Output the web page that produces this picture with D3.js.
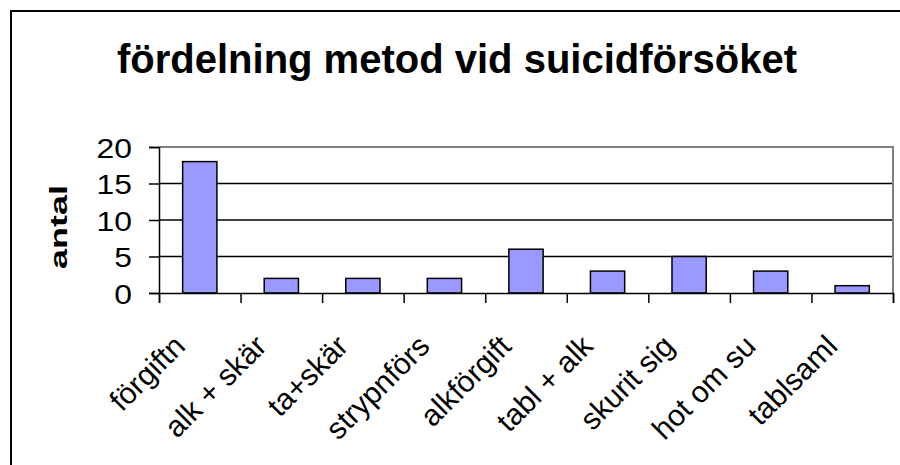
<!DOCTYPE html>
<html>
<head>
<meta charset="utf-8">
<script src="https://cdn.jsdelivr.net/npm/d3@7"></script>
<style>
  body { margin: 0; background: #fff; }
  text { font-family: Arial, "Liberation Sans", sans-serif; }
</style>
</head>
<body>
<svg width="900" height="465"></svg>
<script>
//chart data
var categories = ["förgiftn", "alk + skär", "ta+skär", "strypnförs", "alkförgift", "tabl + alk", "skurit sig", "hot om su", "tablsaml"];
var values = [18, 2, 2, 2, 6, 3, 5, 3, 1];
var yTicks = [0, 5, 10, 15, 20];
var title = "fördelning metod vid suicidförsöket";
var yTitle = "antal";

var svg = d3.select("svg");

//outer frame
svg.append("rect")
    .attr("x", 11).attr("y", 11)
    .attr("width", 950).attr("height", 500)
    .attr("fill", "#fff")
    .attr("stroke", "#000")
    .attr("stroke-width", 2);

//plot area
var plotLeft = 159, plotRight = 893, plotTop = 147, plotBottom = 293;

var x = d3.scaleBand()
    .domain(categories)
    .range([plotLeft, plotRight])
    .paddingInner(0.58)
    .paddingOuter(0.29);

var xTick = d3.scaleLinear()
    .domain([0, categories.length])
    .range([plotLeft, plotRight]);

var y = d3.scaleLinear()
    .domain([0, 20])
    .range([plotBottom, plotTop]);

//gridlines
svg.selectAll(".grid")
    .data(yTicks.filter(function (d) { return d > 0 && d < 20; }))
    .enter()
    .append("line")
    .attr("x1", plotLeft).attr("x2", plotRight)
    .attr("y1", function (d) { return y(d); })
    .attr("y2", function (d) { return y(d); })
    .attr("stroke", "#000")
    .attr("stroke-width", 1.5);

//grey plot border top + right
svg.append("path")
    .attr("d", "M" + plotLeft + "," + y(20) + "H" + plotRight + "V" + plotBottom)
    .attr("fill", "none")
    .attr("stroke", "#808080")
    .attr("stroke-width", 2);

//bars
svg.selectAll(".bar")
    .data(values)
    .enter()
    .append("rect")
    .attr("class", "bar")
    .attr("x", function (d, i) { return x(categories[i]); })
    .attr("width", x.bandwidth())
    .attr("y", function (d) { return y(d); })
    .attr("height", function (d) { return y(0) - y(d); })
    .attr("fill", "#9999ff")
    .attr("stroke", "#000")
    .attr("stroke-width", 1.5);

//y axis
var yAxis = svg.append("g")
    .attr("transform", "translate(" + plotLeft + ",0)")
    .call(d3.axisLeft(y).tickValues(yTicks).tickSize(10).tickPadding(0));
yAxis.select(".domain").attr("stroke", "#000").attr("stroke-width", 1.5);
yAxis.selectAll(".tick line").attr("stroke", "#000").attr("stroke-width", 1.5);
yAxis.selectAll(".tick text")
    .attr("x", null)
    .attr("dy", null)
    .attr("font-size", 27)
    .attr("fill", "#000")
    .attr("font-family", "Arial, 'Liberation Sans', sans-serif")
    .attr("transform", "translate(-27,10) scale(1.18,1)");

//x axis
var xAxis = svg.append("g")
    .attr("transform", "translate(0," + plotBottom + ")")
    .call(d3.axisBottom(xTick).tickValues(d3.range(0, categories.length + 1)).tickSize(10).tickFormat(""));
xAxis.select(".domain").attr("stroke", "#000").attr("stroke-width", 1.5);
xAxis.selectAll(".tick line").attr("stroke", "#000").attr("stroke-width", 1.5);

//x labels
svg.selectAll(".xlabel")
    .data(categories)
    .enter()
    .append("text")
    .attr("class", "xlabel")
    .attr("text-anchor", "end")
    .attr("font-size", 30)
    .attr("transform", function (d) {
        return "translate(" + (x(d) + x.bandwidth() / 2 - 13) + "," + (plotBottom + 55) + ") rotate(-45)";
    })
    .text(function (d) { return d; });

//title
svg.append("text")
    .attr("x", 457).attr("y", 73)
    .attr("text-anchor", "middle")
    .attr("font-size", 40)
    .attr("font-weight", "bold")
    .text(title);

//y title
svg.append("text")
    .attr("transform", "translate(67,227) rotate(-90) scale(1.5,1)")
    .attr("text-anchor", "middle")
    .attr("font-size", 24)
    .attr("font-weight", "bold")
    .text(yTitle);
</script>
</body>
</html>
